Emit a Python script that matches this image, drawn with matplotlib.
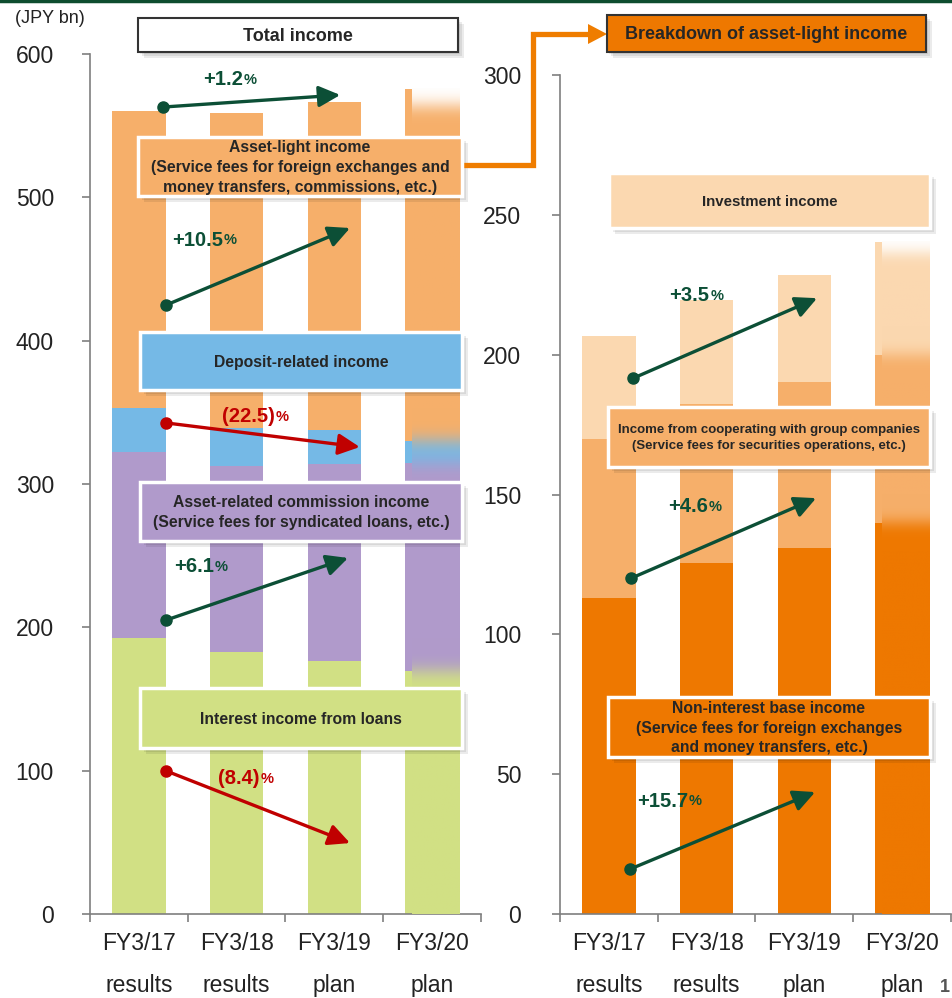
import numpy as np
import matplotlib.pyplot as plt
from matplotlib.patches import Rectangle, Polygon
from matplotlib.colors import to_rgb

plt.rcParams['font.family'] = ['Liberation Sans', 'DejaVu Sans']

periods = ['FY3/17\nresults', 'FY3/18\nresults', 'FY3/19\nplan', 'FY3/20\nplan']

# Total income (JPY bn), stacked bottom to top
interest_loans = [192.3, 182.6, 176.5, 169.5]
asset_related = [129.8, 130.2, 137.2, 145.1]
deposit_related = [31.2, 26.5, 24.2, 15.4]
asset_light = [206.9, 219.5, 228.6, 245.6]

# Breakdown of asset-light income (JPY bn)
non_interest = [113.0, 125.5, 130.9, 139.9]
cooperating = [56.8, 56.8, 59.4, 60.0]
investment = [36.8, 37.2, 38.2, 40.4]

# growth FY3/17 -> FY3/19
left_growth = ['+1.2', '+10.5', '(22.5)', '+6.1', '(8.4)']
right_growth = ['+3.5', '+4.6', '+15.7']

GREEN = '#D1E084'
PURPLE = '#B09ACB'
BLUE = '#75B9E6'
ORANGE = '#F6AF6A'
DARK_ORANGE = '#EE7800'
PEACH = '#FBD8B0'
UP = '#0C4F36'
DOWN = '#C00000'

W, H = 953, 998
fig = plt.figure(figsize=(W / 100, H / 100), dpi=100)


def px_axes(x0, x1, y_top, y_bottom):
    return fig.add_axes([x0 / W, 1 - y_bottom / H, (x1 - x0) / W, (y_bottom - y_top) / H])


def plan_blur(ax, x, segments, colors, width, sigma, top_shift):
    """Soft vertical blend over the plan bar, leaving a thin solid strip on the left."""
    tops = np.cumsum(segments)
    ymax = tops[-1]
    step = 0.25
    ys = np.arange(0, ymax, step)
    cols = np.ones((len(ys), 3))
    bounds = np.concatenate([[0], tops])
    for lo, hi, c in zip(bounds[:-1], bounds[1:], colors):
        cols[(ys >= lo) & (ys < hi)] = to_rgb(c)
    cols[ys >= ymax - top_shift] = 1.0
    pad = int(4 * sigma / step)
    k = np.arange(-pad, pad + 1) * step
    kern = np.exp(-0.5 * (k / sigma) ** 2)
    kern /= kern.sum()
    padded = np.pad(cols, ((pad, pad), (0, 0)), mode='edge')
    blurred = np.stack([np.convolve(padded[:, i], kern, mode='valid') for i in range(3)], axis=1)
    img = np.clip(blurred, 0, 1)[:, None, :]
    x0 = x - width / 2 + 0.062
    ax.imshow(img, extent=(x0, x + width / 2, 0, ymax), origin='lower',
              aspect='auto', zorder=3, interpolation='bilinear')


def style_axis(ax, ymax, ystep, pad):
    ax.set_xlim(-0.5, 3.5)
    ax.set_ylim(0, ymax)
    ax.set_yticks(np.arange(0, ymax + 1, ystep))
    ax.set_xticks(range(4))
    ax.set_xticklabels(periods, linespacing=2.05)
    ax.set_xticks([-0.5, 0.5, 1.5, 2.5, 3.5], minor=True)
    ax.tick_params(axis='x', which='major', length=0, pad=13, labelsize=16.5, colors='#222222')
    ax.tick_params(axis='x', which='minor', length=6, width=1.2, color='#7f7f7f', direction='out')
    ax.tick_params(axis='y', length=6, width=1.2, color='#7f7f7f', pad=pad, labelsize=16.5,
                   labelcolor='#222222')
    for side in ('top', 'right'):
        ax.spines[side].set_visible(False)
    for side in ('left', 'bottom'):
        ax.spines[side].set_color('#7f7f7f')
        ax.spines[side].set_linewidth(1.2)


def growth(ax, start, end, label, label_xy, color):
    ax.annotate('', xy=end, xytext=start, annotation_clip=False, zorder=6,
                arrowprops=dict(arrowstyle='-|>,head_length=0.65,head_width=0.32', color=color,
                                lw=2.4, mutation_scale=20, shrinkA=0, shrinkB=0))
    ax.plot(*start, 'o', color=color, ms=8, zorder=7, clip_on=False)
    t = ax.text(*label_xy, label, color=color, fontsize=14.5, fontweight='bold',
                ha='left', va='center', zorder=7)
    ax.annotate('%', xy=(1, 0), xycoords=t, xytext=(0.5, 1.5), textcoords='offset points',
                fontsize=10.5, fontweight='bold', color=color, ha='left', va='bottom', zorder=7)


x = np.arange(4)
bw = 0.545

# ---- left: total income
axl = px_axes(90, 481, 54, 914)
left_stack = [interest_loans, asset_related, deposit_related, asset_light]
left_colors = [GREEN, PURPLE, BLUE, ORANGE]
bottom = np.zeros(4)
for vals, c in zip(left_stack, left_colors):
    axl.bar(x, vals, bw, bottom=bottom, color=c, zorder=2)
    bottom += np.array(vals)
plan_blur(axl, 3, [s[3] for s in left_stack], left_colors, bw, sigma=5.5, top_shift=12)
style_axis(axl, 600, 100, 20)

growth(axl, (0.25, 563), (2.06, 571.4), left_growth[0], (0.66, 581.9), UP)
growth(axl, (0.28, 424.9), (2.16, 478.6), left_growth[1], (0.34, 470.2), UP)
growth(axl, (0.28, 342.6), (2.26, 325.8), left_growth[2], (0.85, 347.0), DOWN)
growth(axl, (0.28, 205.1), (2.14, 248.4), left_growth[3], (0.36, 242.1), UP)
growth(axl, (0.28, 99.8), (2.16, 49.5), left_growth[4], (0.81, 94.2), DOWN)

# ---- right: breakdown of asset-light income
axr = px_axes(560, 951, 75, 914)
right_stack = [non_interest, cooperating, investment]
right_colors = [DARK_ORANGE, ORANGE, PEACH]
bottom = np.zeros(4)
for vals, c in zip(right_stack, right_colors):
    axr.bar(x, vals, bw, bottom=bottom, color=c, zorder=2)
    bottom += np.array(vals)
plan_blur(axr, 3, [s[3] for s in right_stack], right_colors, bw, sigma=2.5, top_shift=4)
style_axis(axr, 300, 50, 22)

growth(axr, (0.25, 191.6), (2.13, 220.2), right_growth[0], (0.62, 221.0), UP)
growth(axr, (0.23, 120.1), (2.12, 148.7), right_growth[1], (0.61, 145.6), UP)
growth(axr, (0.22, 16.1), (2.11, 43.6), right_growth[2], (0.29, 40.4), UP)

# ---- overlay for titles, callout boxes and connector
ov = fig.add_axes([0, 0, 1, 1], zorder=5)
ov.set_xlim(0, W)
ov.set_ylim(H, 0)
ov.axis('off')


def label_box(x0, y0, x1, y1, text, face, edge='white', lw=2.5, size=11.3, spacing=1.4):
    for d in (2, 4, 6):
        ov.add_patch(Rectangle((x0 + d, y0 + d), x1 - x0, y1 - y0, fc='black', ec='none',
                               alpha=0.08, zorder=1))
    ov.add_patch(Rectangle((x0, y0), x1 - x0, y1 - y0, fc=face, ec=edge, lw=lw, zorder=2))
    ov.text((x0 + x1) / 2, (y0 + y1) / 2 + 1, text, ha='center', va='center', fontsize=size,
            fontweight='bold', color='#262626', linespacing=spacing, zorder=3)


ov.plot([0, W], [1, 1], color='#0E4D2F', lw=2.5, zorder=1)
ov.text(50, 18, '(JPY bn)', ha='center', va='center', fontsize=13, color='#222222')

label_box(138, 18, 458, 52, 'Total income', 'white', edge='#333333', lw=1.5, size=13)
label_box(607, 15, 926, 52, 'Breakdown of asset-light income', DARK_ORANGE,
          edge='#333333', lw=1.5, size=13)

label_box(138, 137, 462, 196, 'Asset-light income\n(Service fees for foreign exchanges and\n'
          'money transfers, commissions, etc.)', ORANGE)
label_box(140, 332, 462, 390, 'Deposit-related income', BLUE)
label_box(140, 482, 462, 541, 'Asset-related commission income\n'
          '(Service fees for syndicated loans, etc.)', PURPLE)
label_box(140, 688, 462, 748, 'Interest income from loans', GREEN)

label_box(609, 173, 930, 228, 'Investment income', PEACH, size=10.8)
label_box(608, 407, 930, 467, 'Income from cooperating with group companies\n'
          '(Service fees for securities operations, etc.)', ORANGE, size=9.5)
label_box(608, 697, 930, 757, 'Non-interest base income\n(Service fees for foreign exchanges\n'
          'and money transfers, etc.)', DARK_ORANGE)

# connector from asset-light callout to the breakdown title
ov.plot([463, 533, 533, 590], [165, 165, 34, 34], color='#EF7D00', lw=3.8,
        solid_joinstyle='miter', zorder=1)
ov.add_patch(Polygon([[588, 24], [607, 34], [588, 44]], closed=True, fc='#EF7D00',
                     ec='none', zorder=1))

ov.text(945, 996, '1', ha='center', va='bottom', fontsize=13, fontweight='bold', color='#555555')

fig.savefig('out.png', dpi=100)
